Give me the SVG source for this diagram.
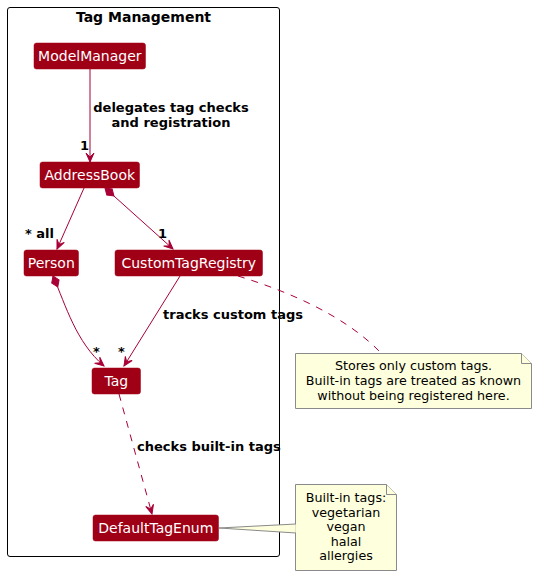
<svg xmlns="http://www.w3.org/2000/svg" width="537" height="576" viewBox="0 0 537 576">
<defs>
<style>
.node rect{fill:#A00016;stroke:#A00016;stroke-width:0.5}
.node text{fill:#FFFFFF;font-family:"DejaVu Sans",sans-serif;font-size:14px;text-anchor:middle}
.edge{fill:none;stroke:#A80036;stroke-width:1}
.dash{stroke-dasharray:7,7}
.lbl{font-family:"DejaVu Sans",sans-serif;font-size:13px;font-weight:bold;fill:#000}
.note polygon,.note path{fill:#FEFFDD;stroke:#8A8A8A;stroke-width:1}
.note text{font-family:"DejaVu Sans",sans-serif;font-size:12.7px;fill:#000;text-anchor:middle}
</style>
<marker id="arr" viewBox="-1 -5 11 10" refX="9" refY="0" markerWidth="11" markerHeight="10" markerUnits="userSpaceOnUse" orient="auto">
<path d="M0,-4 L9,0 L0,4 L4,0 Z" fill="#A80036" stroke="#A80036" stroke-width="1"/>
</marker>
<marker id="dia" viewBox="-1 -5 14 10" refX="0" refY="0" markerWidth="14" markerHeight="10" markerUnits="userSpaceOnUse" orient="auto">
<path d="M0,0 L6,-4 L12,0 L6,4 Z" fill="#A80036" stroke="#A80036" stroke-width="1"/>
</marker>
</defs>
<rect width="537" height="576" fill="#FFFFFF"/>
<g id="package">
<rect x="7.5" y="7.5" width="272" height="549" rx="2.5" fill="none" stroke="#000" stroke-width="1"/>
<text x="143.5" y="22" font-family="DejaVu Sans,sans-serif" font-size="14" font-weight="bold" text-anchor="middle">Tag Management</text>
</g>
<g id="connectors">
<path class="edge" d="M90,69 L90,162" marker-end="url(#arr)"/>
<path class="edge" d="M84,188 L57,249" marker-end="url(#arr)"/>
<path class="edge" d="M105,188 L173,249" marker-start="url(#dia)" marker-end="url(#arr)"/>
<path class="edge" d="M53,276 C66,306 76,342 104,366" marker-start="url(#dia)" marker-end="url(#arr)"/>
<path class="edge" d="M180,276 L124,366" marker-end="url(#arr)"/>
<path class="edge dash" d="M119,394 L152,514" marker-end="url(#arr)"/>
<path class="edge dash" d="M238,276 C290,292 345,316 380,352"/>
<text class="lbl" x="171" y="112" text-anchor="middle">delegates tag checks</text>
<text class="lbl" x="171" y="127" text-anchor="middle">and registration</text>
<text class="lbl" x="80" y="150">1</text>
<text class="lbl" x="25" y="238">* all</text>
<text class="lbl" x="158" y="238">1</text>
<text class="lbl" x="163" y="319">tracks custom tags</text>
<text class="lbl" x="93" y="356">*</text>
<text class="lbl" x="118" y="356">*</text>
<text class="lbl" x="137" y="451">checks built-in tags</text>
</g>
<g id="ModelManager" class="node"><rect x="34" y="43" width="111.5" height="26" rx="2.5"/><text x="89.8" y="61">ModelManager</text></g>
<g id="AddressBook" class="node"><rect x="40" y="162" width="99.5" height="26" rx="2.5"/><text x="89.8" y="180">AddressBook</text></g>
<g id="Person" class="node"><rect x="24" y="250" width="54.5" height="26" rx="2.5"/><text x="51.3" y="268">Person</text></g>
<g id="CustomTagRegistry" class="node"><rect x="115" y="250" width="147.5" height="26" rx="2.5"/><text x="188.8" y="268">CustomTagRegistry</text></g>
<g id="Tag" class="node"><rect x="92" y="368" width="48.5" height="26" rx="2.5"/><text x="116.3" y="386">Tag</text></g>
<g id="DefaultTagEnum" class="node"><rect x="93" y="515" width="125.5" height="26" rx="2.5"/><text x="155.8" y="533">DefaultTagEnum</text></g>
<g id="note1" class="note">
<polygon points="295.5,353.5 521.5,353.5 531.5,363.5 531.5,408.5 295.5,408.5"/>
<path d="M521.5,353.5 L521.5,363.5 L531.5,363.5" fill="none"/>
<text x="413.5" y="370">Stores only custom tags.</text>
<text x="413.5" y="385">Built-in tags are treated as known</text>
<text x="413.5" y="400">without being registered here.</text>
</g>
<g id="note2" class="note">
<polygon points="219,528 296,524 296,533"/>
<polygon points="295.5,484.5 386.5,484.5 396.5,494.5 396.5,570.5 295.5,570.5"/>
<path d="M386.5,484.5 L386.5,494.5 L396.5,494.5" fill="none"/>
<line x1="296" y1="524.5" x2="296" y2="532.5" stroke="#FEFFDD" stroke-width="1.5"/>
<text x="346" y="502">Built-in tags:</text>
<text x="346" y="516.5">vegetarian</text>
<text x="346" y="531">vegan</text>
<text x="346" y="545.5">halal</text>
<text x="346" y="560">allergies</text>
</g>
</svg>
